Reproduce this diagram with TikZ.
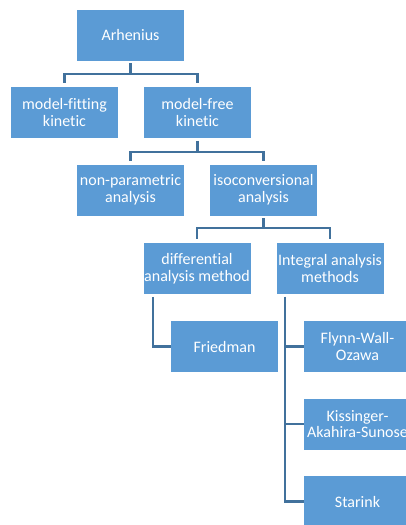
\documentclass[tikz,border=0pt]{standalone}
\usepackage{fontspec}
\setmainfont{Carlito}[Ligatures=NoCommon]

\definecolor{boxblue}{HTML}{5B9BD5}
\definecolor{lineblue}{HTML}{41719C}

\tikzset{
  box/.style={fill=boxblue, text=white, minimum width=80.25pt, minimum height=38.25pt,
    inner sep=0pt, align=center, font=\fontsize{12}{12.5}\selectfont},
  link/.style={draw=lineblue, line width=1.7pt, shorten <=2pt, shorten >=2.5pt}
}

\begin{document}
\begin{tikzpicture}[x=0.75pt,y=-0.75pt]
\useasboundingbox (0,0) rectangle (406,525);
\clip (0,0) rectangle (406,525);

\node[box] (arh) at (130.5,35) {Arhenius};

\node[box] (fit) at (64.5,112.5) {model-fitting\\kinetic};
\node[box] (free) at (197.5,112.5) {model-free\\kinetic};

\node[box] (nonpar) at (130.5,190) {non-parametric\\analysis};
\node[box] (iso) at (263.5,190) {isoconversional\\analysis};

\node[box] (diff) at (197,268.5) {differential\\analysis method};
\node[box] (integ) at (330,268.5) {Integral analysis\\methods};

\node[box] (fried) at (224.5,346.5) {Friedman};
\node[box] (flynn) at (357.5,346.5) {Flynn-Wall-\\Ozawa};
\node[box] (kiss) at (357.5,424) {Kissinger-\\Akahira-Sunose};
\node[box] (star) at (357.5,501.5) {Starink};

% tree links
\draw[link] (arh.south) -- ++(0,13) -| (fit.north);
\draw[link] (arh.south) -- ++(0,13) -| (free.north);

\draw[link] (free.south) -- ++(0,14) -| (nonpar.north);
\draw[link] (free.south) -- ++(0,14) -| (iso.north);

\draw[link] (iso.south) -- ++(0,12) -| (diff.north);
\draw[link] (iso.south) -- ++(0,12) -| (integ.north);

% side links
\draw[link, shorten >=0pt] ([xshift=7.5pt]diff.south west) |- (fried.west);
\draw[link, shorten >=0pt] ([xshift=6.75pt]integ.south west) |- (flynn.west);
\draw[link, shorten >=0pt] ([xshift=6.75pt]integ.south west) |- (kiss.west);
\draw[link, shorten >=0pt] ([xshift=6.75pt]integ.south west) |- (star.west);

\end{tikzpicture}
\end{document}
